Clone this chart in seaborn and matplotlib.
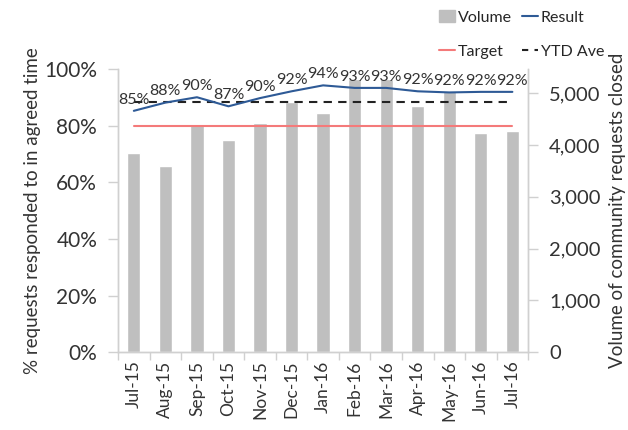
import pandas as pd
import numpy as np
import matplotlib
matplotlib.use('Agg')
import matplotlib.pyplot as plt
import seaborn as sns
from matplotlib.lines import Line2D
from matplotlib.patches import Patch

# Data
months = ['Jul-15', 'Aug-15', 'Sep-15', 'Oct-15', 'Nov-15', 'Dec-15', 'Jan-16',
          'Feb-16', 'Mar-16', 'Apr-16', 'May-16', 'Jun-16', 'Jul-16']
volume = [3840, 3590, 4380, 4090, 4420, 4830, 4610, 5270, 5270, 4750, 5040, 4230, 4270]
result = [85.3, 88.2, 90.1, 86.9, 89.8, 92.2, 94.3, 93.4, 93.4, 92.2, 91.8, 92.0, 92.0]
result_labels = ['85%', '88%', '90%', '87%', '90%', '92%', '94%', '93%', '93%', '92%', '92%', '92%', '92%']
target = [80] * 13
ytd_ave = [88.4] * 13

df = pd.DataFrame({'month': months, 'volume': volume, 'result': result,
                   'target': target, 'ytd': ytd_ave})

sns.set_theme(style='white')
plt.rcParams['font.family'] = ['Lato', 'DejaVu Sans']
txt = '#333333'

fig = plt.figure(figsize=(6.28, 4.30), dpi=100)
ax = fig.add_axes([0.188, 0.181, 0.653, 0.658])
ax_vol = ax.twinx()

# bars (volume) on the right axis, drawn behind the lines
sns.barplot(data=df, x='month', y='volume', color='#BFBFBF', saturation=1,
            width=0.42, ax=ax_vol)
ax.set_zorder(ax_vol.get_zorder() + 1)
ax.patch.set_visible(False)

x = np.arange(len(months))
sns.lineplot(x=x, y=df['target'], color='#F47A7A', linewidth=1.5, ax=ax)
sns.lineplot(x=x, y=df['ytd'], color='#222222', linewidth=1.5, linestyle=(0, (4, 3)), ax=ax)
sns.lineplot(x=x, y=df['result'], color='#2E5A96', linewidth=1.5, sort=False, ax=ax)

for i, (v, lab) in enumerate(zip(result, result_labels)):
    ax.annotate(lab, (i, v), xytext=(0, 3), textcoords='offset points',
                ha='center', va='bottom', fontsize=11.5, color=txt)

ax.set_xlim(-0.5, len(months) - 0.5)
ax_vol.set_xlim(-0.5, len(months) - 0.5)
ax.set_ylim(0, 100)
ax.set_yticks([0, 20, 40, 60, 80, 100])
ax.set_yticklabels(['0%', '20%', '40%', '60%', '80%', '100%'], fontsize=15, color=txt)
ax_vol.set_ylim(0, 5460)
ax_vol.set_yticks([0, 1000, 2000, 3000, 4000, 5000])
ax_vol.set_yticklabels(['0', '1,000', '2,000', '3,000', '4,000', '5,000'], fontsize=14.5, color=txt)

ax.set_xticks(x)
ax.set_xticklabels(months, rotation=90, fontsize=12.5, color=txt)
ax.set_xticks(np.arange(len(months) + 1) - 0.5, minor=True)
ax.tick_params(axis='x', which='major', length=0, pad=6)
ax.tick_params(axis='x', which='minor', length=6, color='#D0D0D0', width=1, bottom=True)
ax.tick_params(axis='y', length=7, color='#D0D0D0', width=1, left=True, pad=8)
ax_vol.tick_params(axis='y', length=7, color='#D0D0D0', width=1, right=True, pad=8)
ax_vol.tick_params(axis='x', length=0)
ax_vol.set_xlabel('')
ax.set_xlabel('')

ax.set_ylabel('% requests responded to in agreed time', fontsize=13.5, color=txt, labelpad=2)
ax_vol.set_ylabel('Volume of community requests closed', fontsize=13.5, color=txt, labelpad=6)

for a in (ax, ax_vol):
    a.spines['top'].set_visible(False)
    for s in ('left', 'right', 'bottom'):
        a.spines[s].set_color('#D0D0D0')
        a.spines[s].set_linewidth(1)
    a.grid(False)

handles = [Patch(color='#BFBFBF'),
           Line2D([], [], color='#F47A7A', linewidth=1.5),
           Line2D([], [], color='#2E5A96', linewidth=1.5),
           Line2D([], [], color='#222222', linewidth=1.5, linestyle=(0, (3, 3)))]
labels = ['Volume', 'Target', 'Result', 'YTD Ave']
fig.legend(handles, labels, ncol=2, loc='upper right', bbox_to_anchor=(0.985, 1.01),
           frameon=False, fontsize=11.5, handlelength=1.0, handletextpad=0.2,
           columnspacing=0.6, labelspacing=1.2, handleheight=0.8)

fig.savefig('out.png', dpi=100)
